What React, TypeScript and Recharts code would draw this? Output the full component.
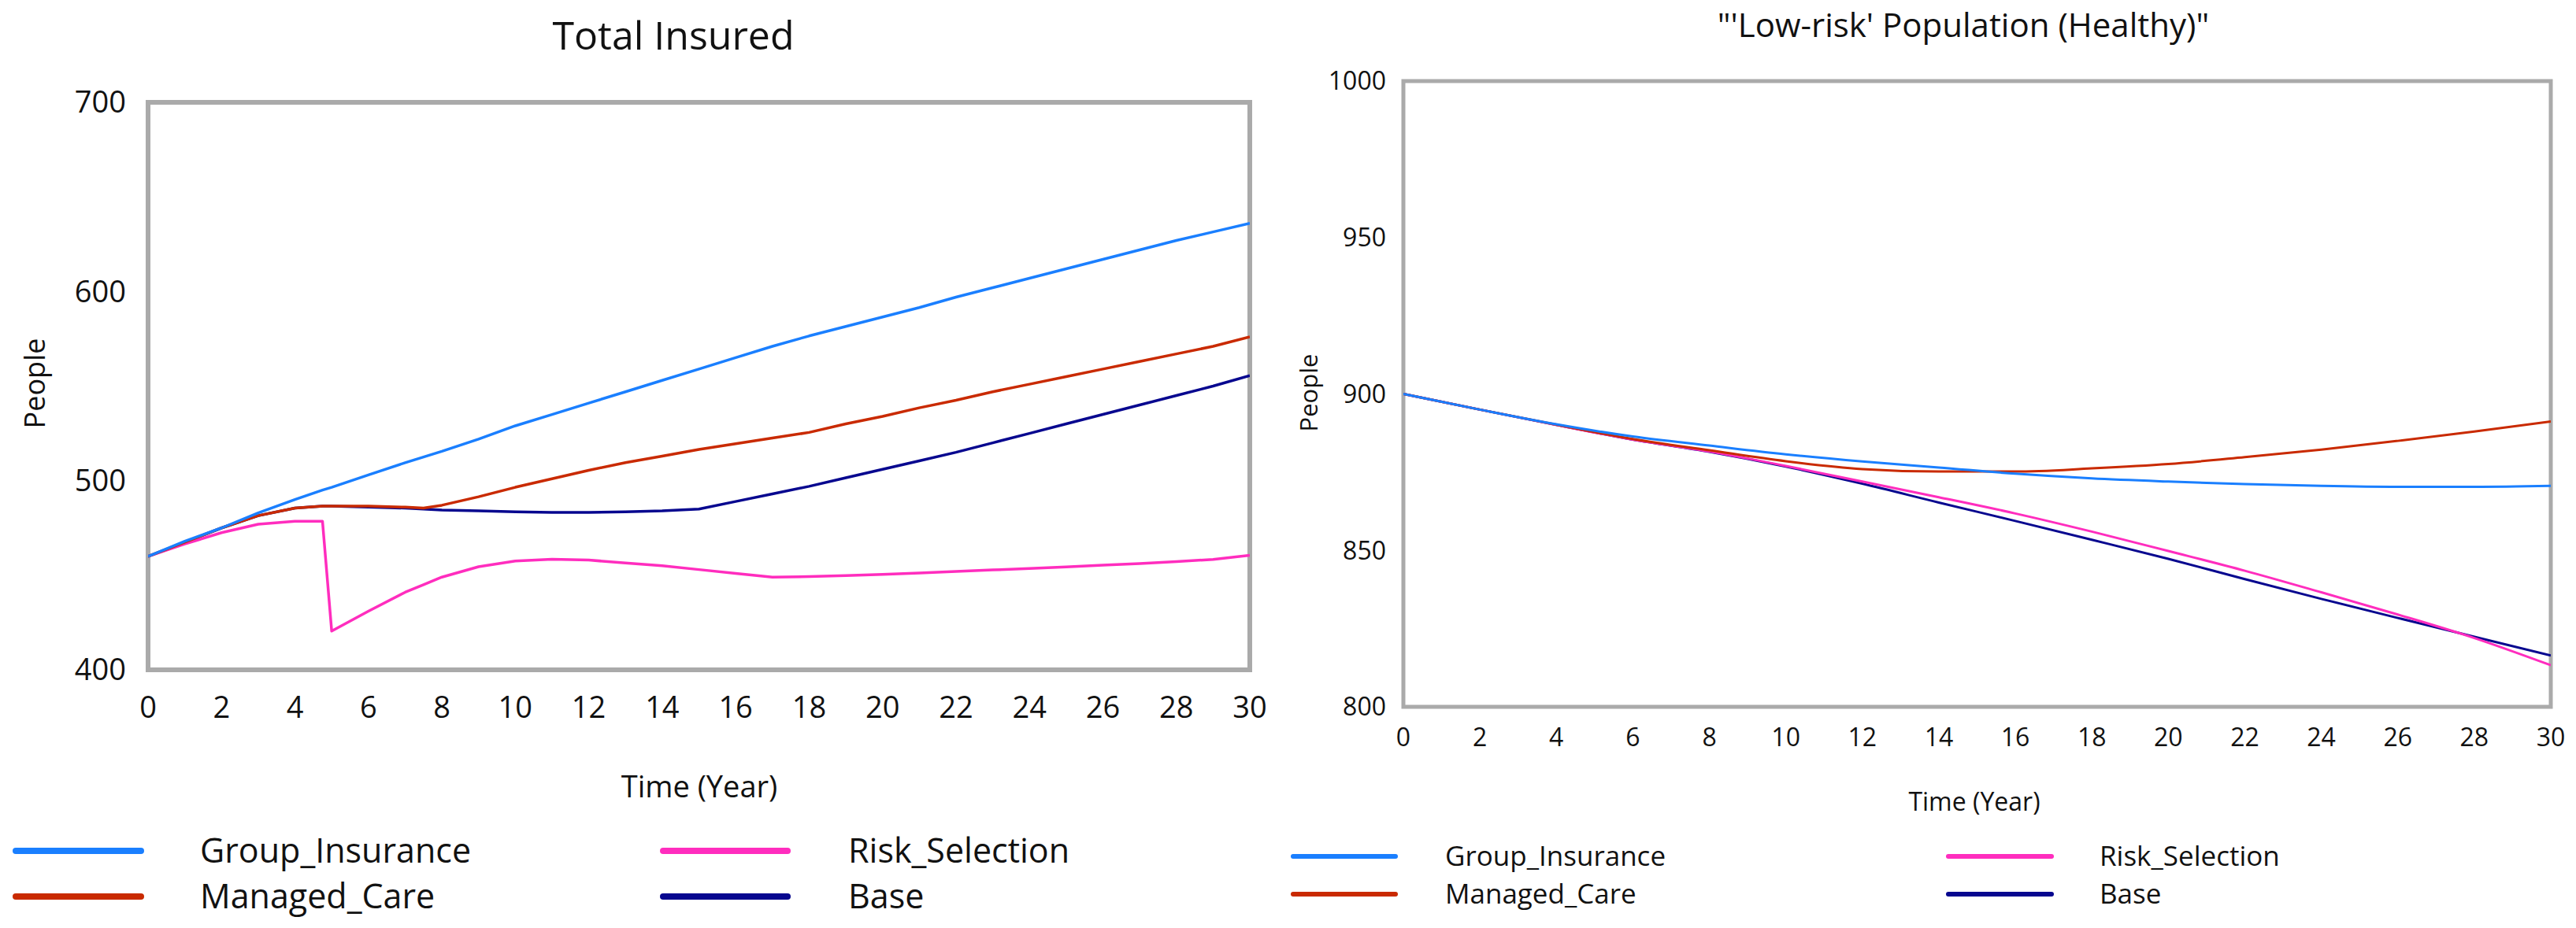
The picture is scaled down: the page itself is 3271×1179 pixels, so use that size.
import React from 'react';
import { LineChart, Line, XAxis, YAxis, ReferenceArea } from 'recharts';

const FONT = "'Open Sans', 'Noto Sans', sans-serif";
const TEXT = '#111111';

const seriesNames = ['Group_Insurance', 'Managed_Care', 'Risk_Selection', 'Base'];
const seriesColors = ['#1a7fff', '#c92a00', '#ff2dbe', '#07078f'];
const drawOrder = ['Base', 'Risk_Selection', 'Managed_Care', 'Group_Insurance'];

// ---- Total Insured ----
const totalTime = [0, 1, 2, 3, 4, 4.75, 5, 6, 7, 7.5, 8, 9, 10, 11, 12, 13, 14, 15, 16, 17, 18, 19, 20, 21, 22, 23, 24, 25, 26, 27, 28, 29, 30];
const totalGroup = [460, 468, 475, 483, 490, 495, 496.5, 503, 509.5, 512.5, 515.5, 522, 529, 535, 541, 547, 553, 559, 565, 571, 576.5, 581.5, 586.5, 591.5, 597, 602, 607, 612, 617, 622, 627, 631.5, 636];
const totalManaged = [460, 467.5, 475, 481.5, 485.5, 486.5, 486.5, 486.5, 486, 485.5, 487, 491.5, 496.5, 501, 505.5, 509.5, 513, 516.5, 519.5, 522.5, 525.5, 530, 534, 538.5, 542.5, 547, 551, 555, 559, 563, 567, 571, 576];
const totalRisk = [460, 466.5, 472.5, 477, 478.5, 478.5, 420.5, 431, 441, 445, 449, 454.5, 457.5, 458.5, 458, 456.5, 455, 453, 451, 449, 449.3, 449.8, 450.5, 451.2, 452, 452.8, 453.6, 454.4, 455.3, 456.2, 457.2, 458.4, 460.5];
const totalBase = [460, 467.5, 475, 481.5, 485.5, 486.5, 486.5, 486, 485.5, 485, 484.5, 484, 483.5, 483.2, 483.2, 483.5, 484, 485, 489, 493, 497, 501.5, 506, 510.5, 515, 520, 525, 530, 535, 540, 545, 550, 555.5];

// ---- 'Low-risk' Population ----
const lowTime = [0, 2, 4, 6, 8, 10, 12, 14, 16, 18, 20, 22, 24, 26, 28, 30];
const lowGroup = [900, 895, 890.3, 886.4, 883.5, 880.7, 878.4, 876.5, 874.5, 873, 872, 871.2, 870.6, 870.3, 870.3, 870.6];
const lowManaged = [900, 895, 890.2, 885.6, 882, 878.5, 876, 875.2, 875.2, 876.2, 877.6, 879.8, 882.2, 885, 888, 891.2];
const lowRisk = [900, 895, 890.1, 885.4, 881.6, 877, 872, 867, 861.8, 856, 849.8, 843.5, 836.6, 829.5, 822, 813.3];
const lowBase = [900, 895, 890.1, 885.4, 881.5, 876.8, 871.3, 865.3, 859.4, 853.4, 847.3, 840.8, 834.5, 828.4, 822.4, 816.4];

const xTicks = [0, 2, 4, 6, 8, 10, 12, 14, 16, 18, 20, 22, 24, 26, 28, 30];
const totalYTicks = [400, 500, 600, 700];
const lowYTicks = [800, 850, 900, 950, 1000];

function buildRows(time: number[], cols: number[][]) {
  return time.map((t, i) => {
    const row: Record<string, number> = { t };
    seriesNames.forEach((n, k) => {
      row[n] = cols[k][i];
    });
    return row;
  });
}

const totalRows = buildRows(totalTime, [totalGroup, totalManaged, totalRisk, totalBase]);
const lowRows = buildRows(lowTime, [lowGroup, lowManaged, lowRisk, lowBase]);

function colorOf(name: string) {
  return seriesColors[seriesNames.indexOf(name)];
}

type PanelProps = {
  rows: Record<string, number>[];
  width: number;
  height: number;
  margin: { top: number; right: number; bottom: number; left: number };
  yDomain: [number, number];
  yTicks: number[];
  yWidth: number;
  tickFont: number;
  xTickMargin: number;
  yTickMargin: number;
  borderWidth: number;
  lineWidth: number;
  curve: 'linear' | 'monotone';
};

function Panel(p: PanelProps) {
  const tickStyle = { fontSize: p.tickFont, fill: TEXT, fontFamily: FONT };
  return (
    <LineChart width={p.width} height={p.height} data={p.rows} margin={p.margin}>
      <XAxis
        dataKey="t"
        type="number"
        domain={[0, 30]}
        ticks={xTicks}
        interval={0}
        tickLine={false}
        axisLine={false}
        tickSize={0}
        tickMargin={p.xTickMargin}
        height={60}
        tick={tickStyle}
        allowDataOverflow
      />
      <YAxis
        type="number"
        domain={p.yDomain}
        ticks={p.yTicks}
        interval={0}
        tickLine={false}
        axisLine={false}
        tickSize={0}
        tickMargin={p.yTickMargin}
        width={p.yWidth}
        tick={tickStyle}
        allowDataOverflow
      />
      <ReferenceArea
        x1={0}
        x2={30}
        y1={p.yDomain[0]}
        y2={p.yDomain[1]}
        fill="none"
        fillOpacity={0}
        stroke="#aaaaaa"
        strokeWidth={p.borderWidth}
        ifOverflow="visible"
      />
      {drawOrder.map((name) => (
        <Line
          key={name}
          type={p.curve}
          dataKey={name}
          stroke={colorOf(name)}
          strokeWidth={p.lineWidth}
          strokeLinejoin="round"
          dot={false}
          activeDot={false}
          isAnimationActive={false}
        />
      ))}
    </LineChart>
  );
}

type LegendSpec = {
  rowsY: number[];
  cols: { x1: number; x2: number; tx: number }[];
  fontSize: number;
  strokeWidth: number;
};

function LegendBlock({ spec }: { spec: LegendSpec }) {
  const items = [
    { name: 'Group_Insurance', c: 0, r: 0 },
    { name: 'Managed_Care', c: 0, r: 1 },
    { name: 'Risk_Selection', c: 1, r: 0 },
    { name: 'Base', c: 1, r: 1 },
  ];
  return (
    <g>
      {items.map((it) => {
        const col = spec.cols[it.c];
        const y = spec.rowsY[it.r];
        return (
          <g key={it.name}>
            <line x1={col.x1} x2={col.x2} y1={y} y2={y} stroke={colorOf(it.name)} strokeWidth={spec.strokeWidth} strokeLinecap="round" />
            <text x={col.tx} y={y + spec.fontSize * 0.357} fontSize={spec.fontSize} fill={TEXT} fontFamily={FONT}>
              {it.name}
            </text>
          </g>
        );
      })}
    </g>
  );
}

export default function App() {
  return (
    <div style={{ position: 'absolute', left: 0, top: 0, width: 3271, height: 1179, background: '#ffffff', overflow: 'hidden' }}>
      <div style={{ position: 'absolute', left: 0, top: 0 }}>
        <Panel
          rows={totalRows}
          width={1640}
          height={1179}
          margin={{ top: 130, right: 53, bottom: 268, left: 68 }}
          yDomain={[400, 700]}
          yTicks={totalYTicks}
          yWidth={120}
          tickFont={38}
          xTickMargin={34}
          yTickMargin={28}
          borderWidth={6}
          lineWidth={3.5}
          curve="linear"
        />
      </div>
      <div style={{ position: 'absolute', left: 1630, top: 0 }}>
        <Panel
          rows={lowRows}
          width={1641}
          height={1179}
          margin={{ top: 103, right: 32, bottom: 221, left: 42 }}
          yDomain={[800, 1000]}
          yTicks={lowYTicks}
          yWidth={110}
          tickFont={32}
          xTickMargin={27}
          yTickMargin={22}
          borderWidth={5}
          lineWidth={3}
          curve="monotone"
        />
      </div>
      <svg width={3271} height={1179} style={{ position: 'absolute', left: 0, top: 0, pointerEvents: 'none' }}>
        <text x={855} y={63} fontSize={50} textAnchor="middle" fill={TEXT} fontFamily={FONT}>Total Insured</text>
        <text x={2493} y={47} fontSize={42} textAnchor="middle" fill={TEXT} fontFamily={FONT}>"'Low-risk' Population (Healthy)"</text>
        <text transform="translate(57,487) rotate(-90)" fontSize={36} textAnchor="middle" fill={TEXT} fontFamily={FONT}>People</text>
        <text transform="translate(1673,499) rotate(-90)" fontSize={31} textAnchor="middle" fill={TEXT} fontFamily={FONT}>People</text>
        <text x={888} y={1013} fontSize={38} textAnchor="middle" fill={TEXT} fontFamily={FONT}>Time (Year)</text>
        <text x={2507} y={1030} fontSize={32} textAnchor="middle" fill={TEXT} fontFamily={FONT}>Time (Year)</text>
        <LegendBlock
          spec={{
            rowsY: [1081, 1139],
            cols: [
              { x1: 20, x2: 179, tx: 254 },
              { x1: 842, x2: 1000, tx: 1077 },
            ],
            fontSize: 43,
            strokeWidth: 8,
          }}
        />
        <LegendBlock
          spec={{
            rowsY: [1088, 1136],
            cols: [
              { x1: 1642, x2: 1772, tx: 1835 },
              { x1: 2474, x2: 2605, tx: 2666 },
            ],
            fontSize: 35,
            strokeWidth: 6,
          }}
        />
      </svg>
    </div>
  );
}
